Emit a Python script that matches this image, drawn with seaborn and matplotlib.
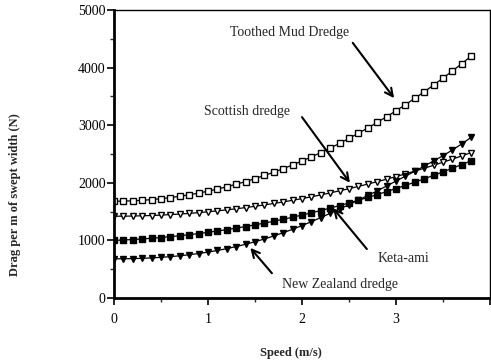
import matplotlib
matplotlib.use("Agg")
import matplotlib.pyplot as plt
from matplotlib.ticker import MultipleLocator, FixedLocator, FixedFormatter
import seaborn as sns
import pandas as pd

# Towing speed (m/s)
speed = [round(0.1 * i, 1) for i in range(39)]

# Drag per metre of swept width (N)
toothed_mud = [1680, 1682, 1687, 1696, 1708, 1724, 1743, 1766, 1792, 1821,
               1855, 1891, 1931, 1975, 2022, 2073, 2127, 2184, 2245, 2310,
               2378, 2450, 2525, 2603, 2685, 2771, 2860, 2952, 3048, 3148,
               3250, 3357, 3467, 3580, 3697, 3818, 3942, 4069, 4200]
scottish = [1420, 1420, 1423, 1427, 1432, 1439, 1448, 1457, 1469, 1482,
            1497, 1513, 1530, 1549, 1570, 1592, 1616, 1641, 1668, 1696,
            1726, 1757, 1790, 1825, 1861, 1898, 1937, 1978, 2020, 2063,
            2109, 2155, 2203, 2253, 2304, 2357, 2411, 2467, 2525]
keta_ami = [1000, 1007, 1015, 1025, 1037, 1050, 1065, 1081, 1099, 1119,
            1140, 1163, 1187, 1213, 1241, 1270, 1301, 1333, 1367, 1403,
            1440, 1479, 1519, 1561, 1605, 1650, 1697, 1745, 1795, 1847,
            1900, 1955, 2011, 2069, 2129, 2190, 2253, 2317, 2383]
new_zealand = [680, 681, 684, 689, 696, 706, 718, 733, 751, 772,
               797, 825, 857, 893, 933, 977, 1025, 1077, 1133, 1193,
               1257, 1325, 1396, 1470, 1545, 1620, 1700, 1780, 1860, 1945,
               2030, 2115, 2200, 2290, 2380, 2470, 2570, 2675, 2790]

x_ticks = [0, 1, 2, 3, 4]
x_tick_labels = ["0", "1", "2", "3", ""]

sns.set_style("ticks")
plt.rcParams["font.family"] = ["Liberation Serif", "DejaVu Serif"]

fig = plt.figure(figsize=(4.91, 3.62), dpi=100)
ax = fig.add_axes([114 / 491, 1 - 298 / 362, 376 / 491, 288 / 362])

df = pd.DataFrame({"speed": speed, "tmd": toothed_mud, "sco": scottish,
                   "keta": keta_ami, "nz": new_zealand})

styles = [
    ("tmd", "s", "white", 4.2),
    ("sco", "v", "white", 4.6),
    ("keta", "s", "black", 4.2),
    ("nz", "v", "black", 4.8),
]
for col, mk, face, ms in styles:
    sns.lineplot(data=df, x="speed", y=col, ax=ax, color="black", lw=0.9,
                 marker=mk, markerfacecolor=face, markeredgecolor="black",
                 markeredgewidth=1.0, markersize=ms)

ax.set_xlim(0, 4)
ax.set_ylim(0, 5000)
ax.xaxis.set_major_locator(FixedLocator(x_ticks))
ax.xaxis.set_major_formatter(FixedFormatter(x_tick_labels))
ax.xaxis.set_minor_locator(MultipleLocator(0.5))
ax.yaxis.set_major_locator(MultipleLocator(1000))
ax.yaxis.set_minor_locator(MultipleLocator(500))
ax.tick_params(axis="both", which="major", direction="out", length=5,
               width=1.2, labelsize=10, colors="black")
ax.tick_params(axis="both", which="minor", direction="out", length=3, width=1.0)
ax.tick_params(axis="x", which="major", pad=6)
ax.tick_params(axis="y", which="major", pad=1)
ax.set_xlabel("")
ax.set_ylabel("")

for side in ("left", "bottom"):
    ax.spines[side].set_linewidth(2.0)
for side in ("top", "right"):
    ax.spines[side].set_visible(True)
    ax.spines[side].set_linewidth(1.0)
for s in ax.spines.values():
    s.set_color("black")

arrow = dict(arrowstyle="->", color="black", lw=1.5,
             mutation_scale=14, shrinkA=0, shrinkB=0)
notes = [
    ("Toothed Mud Dredge", (2.98, 3470), (2.54, 4430), (1.87, 4610)),
    ("Scottish dredge", (2.51, 2000), (2.00, 3140), (1.41, 3240)),
    ("Keta-ami", (2.33, 1560), (2.69, 850), (3.08, 680)),
    ("New Zealand dredge", (1.45, 870), (1.68, 430), (2.40, 230)),
]
for label, head, tail, txt in notes:
    ax.annotate("", xy=head, xytext=tail, arrowprops=arrow)
    ax.text(txt[0], txt[1], label, fontsize=10, ha="center", va="center")

fig.text(291 / 491, 1 - 353 / 362, "Speed (m/s)", fontsize=9,
         fontweight="bold", ha="center", va="center")
fig.text(15 / 491, 1 - 195 / 362, "Drag per m of swept width (N)", fontsize=9,
         fontweight="bold", ha="center", va="center", rotation=90)

fig.savefig("out.png", dpi=100, facecolor="white")
